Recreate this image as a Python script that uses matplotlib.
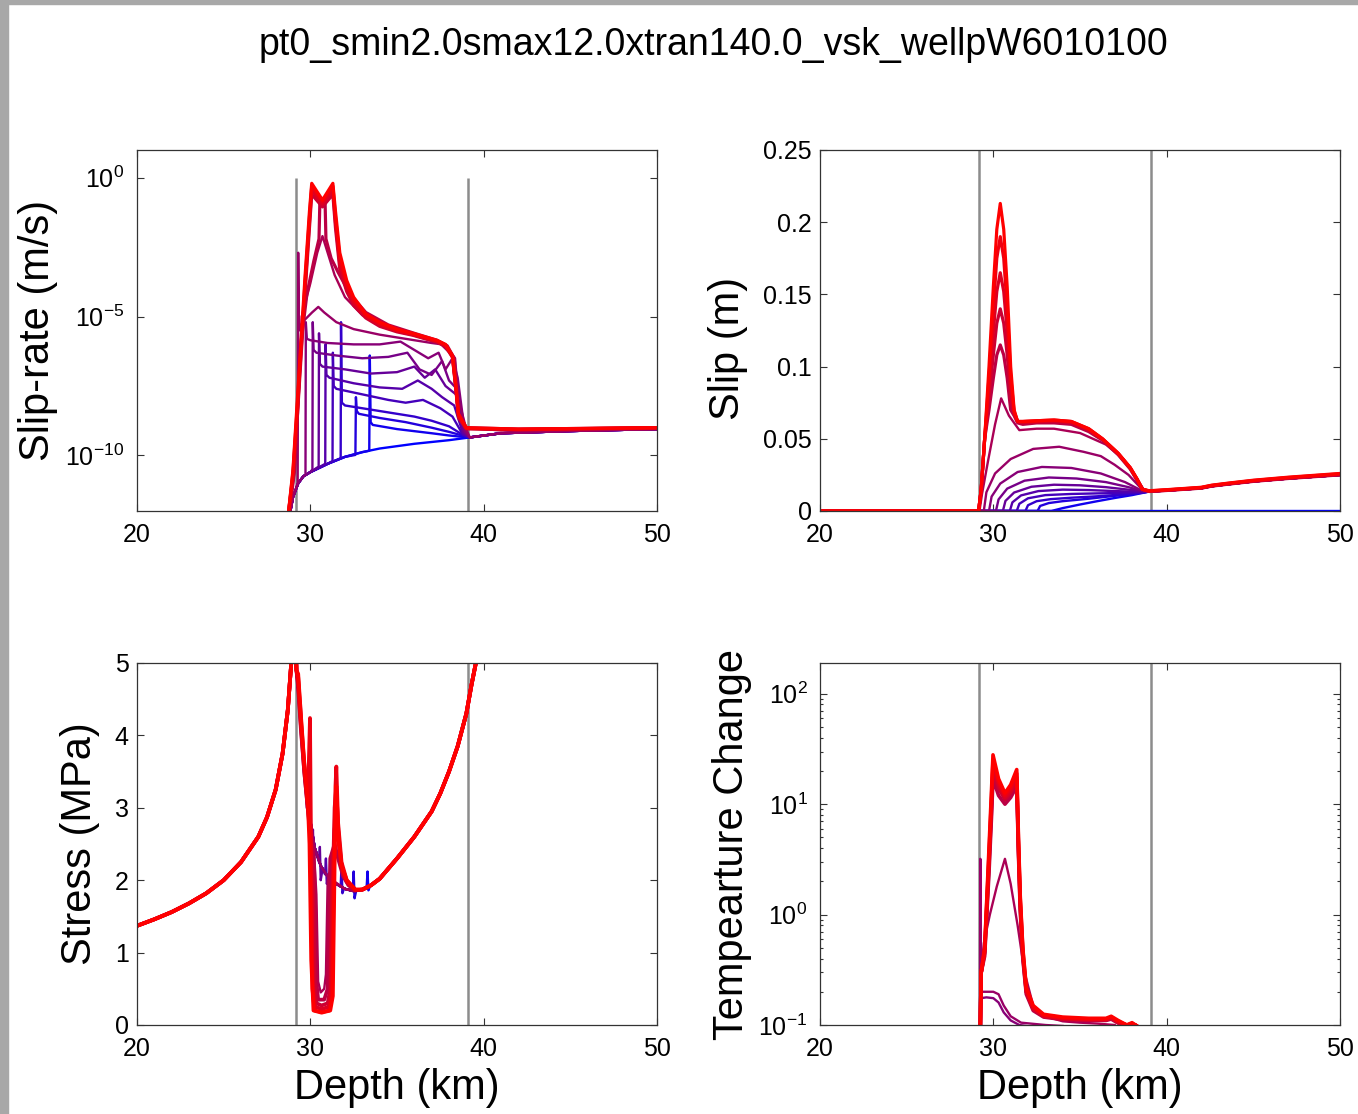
import numpy as np
import matplotlib
matplotlib.use("Agg")
import matplotlib.pyplot as plt
from matplotlib.patches import Rectangle
from matplotlib.ticker import FixedLocator, FixedFormatter, LogLocator, NullFormatter

plt.rcParams['font.family'] = ['Liberation Sans', 'DejaVu Sans']
plt.rcParams['mathtext.fontset'] = 'custom'
plt.rcParams['mathtext.rm'] = 'Liberation Sans'
plt.rcParams['mathtext.it'] = 'Liberation Sans:italic'
plt.rcParams['mathtext.bf'] = 'Liberation Sans:bold'

# ---------------- text / axes data ----------------
TITLE = "pt0_smin2.0smax12.0xtran140.0_vsk_wellpW6010100"
XLABEL = "Depth (km)"
YLABELS = ["Slip-rate (m/s)", "Slip (m)", "Stress (MPa)", "Tempearture Change"]
DEPTH_TICKS = [20, 30, 40, 50]
FAULT_EDGES = [29.15, 39.1]
N_SNAP = 16

# ---------------- slip rate (log10 m/s) ----------------
SR_BG_D = [28.85, 29.0, 29.3, 29.6, 30.0, 31.0, 32.0, 33.0, 34.0, 36.0, 38.0, 39.2, 41.0, 45.0, 50.0]
SR_BG = [-12.0, -11.5, -11.0, -10.75, -10.6, -10.3, -10.05, -9.88, -9.75, -9.58, -9.45, -9.35, -9.2, -9.12, -9.05]
SR_MID_D = [
    [33.4, 33.43, 33.48, 33.6, 35.0, 37.0, 38.0, 38.6],
    [32.6, 32.63, 32.68, 32.8, 34.0, 35.5, 37.0, 38.0, 38.7],
    [31.75, 31.77, 31.82, 32.0, 33.0, 34.5, 36.0, 37.0, 38.0, 38.7],
    [31.28, 31.3, 31.35, 31.5, 33.0, 34.5, 35.5, 36.5, 37.5, 38.2, 38.8],
    [30.86, 30.88, 30.93, 31.1, 32.5, 34.0, 35.3, 36.2, 37.0, 37.6, 38.3, 38.8],
    [30.48, 30.5, 30.55, 30.7, 32.0, 33.5, 35.0, 36.0, 36.6, 37.2, 37.8, 38.4, 38.8],
    [30.12, 30.14, 30.19, 30.35, 31.5, 33.0, 34.5, 35.6, 36.3, 37.0, 37.6, 38.0, 38.45, 38.85],
    [29.72, 29.74, 29.8, 30.0, 31.0, 32.5, 34.0, 35.2, 36.0, 36.8, 37.4, 37.8, 38.2, 38.5, 38.9],
    [29.27, 29.3, 29.34, 29.45, 29.7, 30.1, 30.46, 30.8, 31.5, 32.5, 34.0, 35.0, 36.0, 37.0, 37.6, 38.0, 38.35, 38.55, 39.0],
]
SR_MID = [
    [-9.83, -6.4, -8.8, -8.9, -9.05, -9.2, -9.28, -9.32],
    [-9.98, -7.9, -8.4, -8.5, -8.65, -8.8, -9.0, -9.15, -9.27],
    [-10.1, -5.2, -8.1, -8.2, -8.3, -8.45, -8.6, -8.75, -8.95, -9.22],
    [-10.2, -6.3, -7.5, -7.6, -7.8, -8.0, -8.1, -8.0, -8.3, -8.6, -9.25],
    [-10.3, -6.0, -7.1, -7.2, -7.4, -7.55, -7.6, -7.3, -7.6, -7.9, -8.2, -9.2],
    [-10.4, -5.6, -6.7, -6.8, -6.9, -7.05, -7.0, -6.8, -7.2, -6.9, -7.5, -7.8, -9.15],
    [-10.5, -5.2, -6.2, -6.3, -6.4, -6.5, -6.45, -6.3, -6.9, -7.1, -6.6, -7.3, -7.6, -9.1],
    [-10.7, -5.2, -5.8, -5.85, -5.95, -6.0, -6.0, -5.9, -6.2, -6.5, -6.3, -6.9, -6.5, -7.2, -9.1],
    [-11.0, -2.7, -5.5, -5.3, -5.1, -4.85, -4.65, -4.85, -5.2, -5.45, -5.65, -5.75, -5.85, -5.95, -6.0, -6.2, -6.5, -8.0, -9.05],
]
SR10_D = [28.8, 29.1, 29.35, 29.5, 30.0, 30.4, 30.7, 31.0, 31.4, 32.0, 33.0, 34.5, 36.0, 37.3, 38.2, 38.5, 38.9, 41.0, 45.0, 50.0]
SR10 = [-12, -10.5, -7.5, -5.0, -3.8, -2.7, -2.1, -2.7, -3.5, -4.3, -4.95, -5.4, -5.65, -5.85, -6.4, -8.4, -9.0, -9.1, -9.1, -9.05]
SR11_D = [28.8, 29.1, 29.3, 29.45, 29.8, 30.2, 30.5, 30.55, 30.7, 30.85, 30.9, 31.2, 31.6, 32.3, 33.2, 34.5, 36.0, 37.3, 37.9, 38.3, 38.55, 39.0, 42.0, 50.0]
SR11 = [-12, -10.5, -8.0, -6.0, -4.2, -3.0, -2.2, -0.85, -0.8, -0.85, -2.2, -2.9, -3.4, -4.2, -4.85, -5.3, -5.6, -5.85, -6.05, -6.5, -8.5, -9.0, -9.05, -9.0]
SR_RED_D = [28.75, 29.0, 29.25, 29.45, 29.7, 29.95, 30.08, 30.7, 31.3, 31.45, 31.7, 32.1, 32.5, 33.2, 34.0, 35.0, 35.9, 37.3, 37.8, 38.2, 38.4, 38.55, 39.0, 42.0, 50.0]
SR_RED = [
    [-12, -10.8, -8.6, -6.6, -4.1, -1.8, -0.6, -1.05, -0.6, -1.8, -3.3, -4.1, -4.6, -5.05, -5.35, -5.55, -5.67, -5.92, -6.07, -6.47, -7.65, -8.65, -9.04, -9.08, -9.01],
    [-12, -10.7, -8.4, -6.4, -3.9, -1.6, -0.45, -0.95, -0.45, -1.6, -3.1, -4.0, -4.5, -5.0, -5.3, -5.52, -5.65, -5.9, -6.05, -6.45, -7.6, -8.6, -9.03, -9.07, -9.0],
    [-12, -10.6, -8.2, -6.2, -3.7, -1.4, -0.3, -0.85, -0.3, -1.4, -2.9, -3.85, -4.4, -4.95, -5.25, -5.5, -5.62, -5.87, -6.02, -6.42, -7.55, -8.55, -9.02, -9.06, -9.0],
    [-12, -10.5, -8.0, -6.0, -3.5, -1.2, -0.2, -0.8, -0.2, -1.2, -2.7, -3.7, -4.3, -4.9, -5.2, -5.45, -5.6, -5.85, -6.0, -6.4, -7.5, -8.5, -9.0, -9.05, -9.0],
]

# ---------------- slip (m) ----------------
SLIP_TAIL_D = [39.0, 40.0, 41.0, 42.0, 42.6, 43.5, 45.0, 47.0, 50.0]
SLIP_TAIL = [0.0135, 0.0142, 0.015, 0.0158, 0.0172, 0.0185, 0.0205, 0.0225, 0.025]
SLIP_MID_D = [
    [33.35, 34.0, 35.0, 36.0, 37.0, 38.0, 38.6],
    [32.55, 32.7, 33.2, 34.0, 35.5, 37.0, 38.5],
    [31.85, 32.0, 32.5, 33.3, 34.5, 36.0, 37.5, 38.6],
    [31.35, 31.5, 32.0, 33.0, 34.5, 36.0, 37.5, 38.6],
    [30.95, 31.1, 31.6, 32.6, 34.0, 35.5, 37.0, 38.4],
    [30.55, 30.7, 31.2, 32.2, 33.5, 35.0, 36.5, 38.0, 38.8],
    [30.15, 30.3, 30.8, 31.8, 33.2, 34.8, 36.5, 37.8, 38.6],
    [29.75, 29.9, 30.4, 31.4, 32.8, 34.5, 36.2, 37.6, 38.5],
    [29.45, 29.6, 30.1, 31.0, 32.3, 33.8, 35.2, 36.2, 37.0, 37.8, 38.5],
    [29.2, 29.35, 29.7, 30.1, 30.45, 30.9, 31.5, 32.5, 33.5, 35.0, 36.5, 37.5, 38.3, 38.7],
]
SLIP_MID = [
    [0, 0.002, 0.0045, 0.0068, 0.009, 0.011, 0.0125],
    [0, 0.0035, 0.0055, 0.0068, 0.0085, 0.0105, 0.0125],
    [0, 0.004, 0.0068, 0.0082, 0.0092, 0.0102, 0.0115, 0.0128],
    [0, 0.005, 0.0088, 0.011, 0.0118, 0.0122, 0.0125, 0.013],
    [0, 0.006, 0.0108, 0.0138, 0.0148, 0.0145, 0.0138, 0.0133],
    [0, 0.007, 0.0128, 0.0168, 0.0182, 0.0178, 0.0165, 0.0145, 0.0134],
    [0, 0.008, 0.0155, 0.021, 0.0232, 0.0225, 0.02, 0.0165, 0.0138],
    [0, 0.01, 0.019, 0.027, 0.0305, 0.0298, 0.026, 0.02, 0.0145],
    [0, 0.013, 0.026, 0.036, 0.043, 0.0445, 0.041, 0.038, 0.032, 0.025, 0.016],
    [0, 0.012, 0.035, 0.06, 0.078, 0.066, 0.056, 0.057, 0.057, 0.054, 0.046, 0.036, 0.022, 0.0145],
]
SLIP_RED_D = [29.15, 29.3, 29.5, 29.75, 30.0, 30.2, 30.4, 30.6, 30.8, 31.0, 31.2, 31.4, 31.7, 32.5, 33.5, 34.5,
              35.5, 36.3, 37.2, 37.9, 38.3, 38.6]
SLIP_RED = [
    [0, 0.015, 0.05, 0.07, 0.092, 0.108, 0.115, 0.108, 0.092, 0.07, 0.066, 0.061, 0.06, 0.061, 0.061, 0.06, 0.055, 0.049, 0.039, 0.029, 0.021, 0.015],
    [0, 0.015, 0.05, 0.078, 0.108, 0.13, 0.14, 0.13, 0.108, 0.078, 0.067, 0.062, 0.061, 0.0615, 0.062, 0.061, 0.056, 0.0495, 0.0395, 0.0295, 0.0215, 0.015],
    [0, 0.015, 0.05, 0.086, 0.124, 0.152, 0.165, 0.152, 0.124, 0.086, 0.068, 0.062, 0.0615, 0.062, 0.0625, 0.0615, 0.0565, 0.0497, 0.0398, 0.0298, 0.0218, 0.015],
    [0, 0.015, 0.05, 0.093, 0.14, 0.175, 0.19, 0.175, 0.14, 0.093, 0.069, 0.062, 0.062, 0.0625, 0.063, 0.062, 0.057, 0.05, 0.04, 0.03, 0.022, 0.015],
    [0, 0.015, 0.05, 0.1, 0.155, 0.195, 0.213, 0.195, 0.155, 0.1, 0.07, 0.062, 0.062, 0.0625, 0.063, 0.062, 0.057, 0.05, 0.04, 0.03, 0.022, 0.015],
]

# ---------------- stress (MPa) ----------------
ST_BG_D = [20, 21, 22, 23, 24, 25, 26, 27, 27.5, 28, 28.4, 28.7, 28.9, 29.0, 29.1, 29.2, 29.45, 29.65, 29.85, 30.25,
           30.6, 31.0, 31.5, 32.0, 32.5, 33.0, 33.5, 34.0, 35.0, 36.0, 37.0, 37.5, 38.0, 38.5, 39.0, 39.3, 39.55, 39.7, 40.0, 50.0]
ST_BG = [1.37, 1.46, 1.56, 1.68, 1.82, 2.0, 2.25, 2.6, 2.87, 3.25, 3.75, 4.35, 5.0, 5.8, 5.8, 4.9, 4.26, 3.57, 3.05, 2.45,
         2.2, 2.05, 1.95, 1.88, 1.85, 1.87, 1.93, 2.02, 2.3, 2.6, 2.95, 3.2, 3.5, 3.85, 4.3, 4.7, 5.0, 5.3, 5.8, 5.8]
ST_MID_D = [
    [33.25, 33.3, 33.35, 33.45],
    [32.45, 32.5, 32.55, 32.65],
    [31.75, 31.8, 31.85, 31.95],
    [31.25, 31.3, 31.35, 31.45],
    [30.85, 30.9, 30.95, 31.05],
    [30.5, 30.55, 30.6, 30.7],
    [30.1, 30.15, 30.2, 30.3],
    [29.7, 29.75, 29.8, 29.9],
    [29.4, 29.45, 29.5, 29.6],
]
ST_MID = [
    [1.91, 2.12, 1.86, 1.92],
    [1.85, 2.12, 1.75, 1.86],
    [1.91, 2.2, 1.82, 1.89],
    [1.99, 2.25, 1.88, 1.96],
    [2.08, 2.3, 1.95, 2.04],
    [2.25, 2.46, 2.0, 2.15],
    [2.5, 2.7, 2.3, 2.4],
    [3.35, 3.5, 3.0, 2.95],
    [4.3, 4.45, 4.0, 3.75],
]
ST10_D = [29.85, 30.2, 30.35, 30.45, 30.6, 30.8, 30.9, 31.0, 31.1, 31.4, 32.0]
ST10 = [3.05, 2.45, 1.8, 0.6, 0.45, 0.5, 0.7, 2.0, 2.1, 1.98, 1.88]
ST_RED_D = [
    [29.3, 29.45, 29.65, 29.85, 30.0, 30.2, 30.3, 30.35, 30.45, 30.8, 31.0, 31.08, 31.15, 31.4, 31.6, 31.9, 32.2, 32.6],
    [29.3, 29.45, 29.65, 29.85, 30.0, 30.15, 30.25, 30.35, 30.65, 31.0, 31.15, 31.22, 31.4, 31.5, 31.7, 31.9, 32.2, 32.6],
    [29.3, 29.45, 29.65, 29.85, 29.95, 30.05, 30.15, 30.3, 30.65, 31.05, 31.2, 31.28, 31.4, 31.5, 31.6, 31.8, 32.1, 32.6],
    [29.3, 29.45, 29.65, 29.85, 29.98, 30.05, 30.12, 30.25, 30.65, 31.1, 31.25, 31.35, 31.45, 31.5, 31.6, 31.8, 32.1, 32.6],
    [29.3, 29.45, 29.65, 29.85, 29.95, 30.05, 30.18, 30.65, 31.15, 31.3, 31.4, 31.48, 31.55, 31.65, 31.8, 32.1, 32.6],
]
ST_RED = [
    [4.65, 4.1, 3.5, 3.0, 2.6, 2.3, 1.5, 0.6, 0.35, 0.35, 0.5, 1.5, 2.3, 2.5, 2.3, 2.05, 1.93, 1.86],
    [4.7, 4.15, 3.5, 3.0, 2.7, 2.0, 0.6, 0.3, 0.27, 0.3, 0.5, 1.6, 2.7, 2.9, 2.35, 2.08, 1.94, 1.86],
    [4.75, 4.2, 3.55, 3.05, 3.4, 2.0, 0.55, 0.25, 0.22, 0.25, 0.45, 1.8, 3.0, 3.3, 2.7, 2.2, 1.98, 1.86],
    [4.8, 4.25, 3.6, 3.05, 4.24, 2.2, 0.5, 0.2, 0.18, 0.2, 0.4, 2.0, 3.3, 3.57, 2.8, 2.25, 2.0, 1.87],
    [4.85, 4.3, 3.62, 3.1, 2.5, 0.9, 0.2, 0.17, 0.2, 0.4, 2.2, 3.3, 3.0, 2.5, 2.2, 2.0, 1.87],
]

# ---------------- temperature change ----------------
T_IDX = [8, 9, 10]
T_D = [
    [29.28, 29.3, 29.6, 30.0, 30.3, 30.6, 31.0, 31.5, 32.5],
    [29.22, 29.25, 29.28, 29.6, 30.0, 30.3, 30.6, 31.0, 31.6, 33.0, 34.0],
    [29.25, 29.3, 29.45, 29.8, 30.2, 30.67, 31.0, 31.4, 31.8, 32.3, 33.0, 34.0, 35.0, 36.0, 37.0],
]
T_V = [
    [0.05, 0.175, 0.178, 0.175, 0.16, 0.13, 0.11, 0.1, 0.095],
    [0.05, 3.2, 0.2, 0.2, 0.2, 0.19, 0.15, 0.12, 0.105, 0.1, 0.098],
    [0.05, 0.3, 0.55, 1.0, 1.8, 3.2, 1.9, 0.8, 0.3, 0.15, 0.12, 0.108, 0.105, 0.103, 0.1],
]
T_RED_D = [29.22, 29.3, 29.5, 29.75, 29.9, 29.98, 30.3, 30.67, 31.0, 31.35, 31.45, 31.55, 31.7, 31.9, 32.3, 32.9, 34.0, 35.5, 36.5, 36.8, 37.2, 37.7, 38.0, 38.2, 38.4]
T_RED = [
    [0.05, 0.3, 0.42, 2.4, 8.0, 17, 12, 10, 11.5, 14.5, 3.5, 1.1, 0.4, 0.19, 0.135, 0.118, 0.112, 0.11, 0.11, 0.113, 0.104, 0.098, 0.1, 0.099, 0.095],
    [0.05, 0.3, 0.45, 2.8, 9.5, 20, 14, 11, 12.5, 16.5, 3.8, 1.2, 0.42, 0.2, 0.14, 0.12, 0.113, 0.111, 0.111, 0.115, 0.105, 0.099, 0.101, 0.1, 0.095],
    [0.05, 0.3, 0.46, 3.1, 10.5, 22, 15, 11.5, 13, 17.5, 4.0, 1.3, 0.45, 0.2, 0.14, 0.12, 0.114, 0.112, 0.112, 0.116, 0.106, 0.1, 0.102, 0.1, 0.095],
    [0.05, 0.3, 0.48, 3.5, 12, 25, 16, 12, 14, 19, 4.5, 1.4, 0.48, 0.21, 0.145, 0.123, 0.116, 0.113, 0.113, 0.118, 0.108, 0.1, 0.103, 0.1, 0.095],
    [0.05, 0.3, 0.5, 4.0, 14, 28, 17, 12.6, 15, 20.6, 5.0, 1.5, 0.5, 0.22, 0.15, 0.125, 0.118, 0.115, 0.115, 0.12, 0.11, 0.1, 0.105, 0.1, 0.095],
]


def snap_color(i):
    t = i / (N_SNAP - 1)
    return (t, 0.0, 1.0 - t)


def splice(bg_d, bg_v, mid_d, mid_v):
    d = [x for x in bg_d if x < mid_d[0]] + list(mid_d) + [x for x in bg_d if x > mid_d[-1]]
    v = [y for x, y in zip(bg_d, bg_v) if x < mid_d[0]] + list(mid_v) + \
        [y for x, y in zip(bg_d, bg_v) if x > mid_d[-1]]
    return d, v


W, H = 1358, 1114
fig = plt.figure(figsize=(W / 100, H / 100), dpi=100)
fig.patch.set_facecolor('white')
fig.patches.append(Rectangle((0, 0), 8 / W, 1, transform=fig.transFigure, color='#a8a8a8', zorder=0))
fig.patches.append(Rectangle((0, 1 - 4 / H), 1, 4 / H, transform=fig.transFigure, color='#a8a8a8', zorder=0))


def make_ax(px_left, px_top, px_w=520, px_h=361):
    return fig.add_axes([px_left / W, 1 - (px_top + px_h) / H, px_w / W, px_h / H])


ax1 = make_ax(137, 150)
ax2 = make_ax(820, 150)
ax3 = make_ax(137, 663, px_h=362)
ax4 = make_ax(820, 663, px_h=362)

LW = 1.7
LW_RED = 2.3
GRAY = '#8c8c8c'
TICK_FS = 18
LABEL_FS = 30

# ---- panel 1: slip-rate ----
for x in FAULT_EDGES:
    ax1.vlines(x, 1e-12, 1.0, color=GRAY, lw=1.8, zorder=1)
ax1.plot(SR_BG_D, 10.0 ** np.array(SR_BG), color=snap_color(0), lw=LW)
for k in range(9):
    d, v = splice(SR_BG_D, SR_BG, SR_MID_D[k], SR_MID[k])
    ax1.plot(d, 10.0 ** np.array(v), color=snap_color(k + 1), lw=LW)
ax1.plot(SR10_D, 10.0 ** np.array(SR10), color=snap_color(10), lw=LW)
ax1.plot(SR11_D, 10.0 ** np.array(SR11), color=snap_color(11), lw=LW_RED)
for k, v in enumerate(SR_RED):
    ax1.plot(SR_RED_D, 10.0 ** np.array(v), color=snap_color(12 + k), lw=LW_RED)
ax1.set_yscale('log')
ax1.set_ylim(1e-12, 1e1)
ax1.yaxis.set_major_locator(FixedLocator([1e-10, 1e-5, 1e0]))
ax1.yaxis.set_major_formatter(FixedFormatter([r'$10^{-10}$', r'$10^{-5}$', r'$10^{0}$']))
ax1.yaxis.set_minor_locator(FixedLocator([]))

# ---- panel 2: slip ----
for x in FAULT_EDGES:
    ax2.axvline(x, color=GRAY, lw=1.8, zorder=1)
ax2.plot([20, 50], [0, 0], color=snap_color(0), lw=LW)
for k in range(10):
    d = [20.0] + SLIP_MID_D[k] + SLIP_TAIL_D
    v = [0.0] + SLIP_MID[k] + SLIP_TAIL
    ax2.plot(d, v, color=snap_color(k + 1), lw=LW)
for k, vals in enumerate(SLIP_RED):
    d = [20.0] + SLIP_RED_D + SLIP_TAIL_D
    v = [0.0] + vals + [s * (1.0 + 0.01 * k) for s in SLIP_TAIL]
    ax2.plot(d, v, color=snap_color(11 + k), lw=LW_RED)
ax2.set_ylim(0, 0.25)
ax2.yaxis.set_major_locator(FixedLocator([0, 0.05, 0.1, 0.15, 0.2, 0.25]))
ax2.yaxis.set_major_formatter(FixedFormatter(['0', '0.05', '0.1', '0.15', '0.2', '0.25']))

# ---- panel 3: stress ----
for x in FAULT_EDGES:
    ax3.axvline(x, color=GRAY, lw=1.8, zorder=1)
ax3.plot(ST_BG_D, ST_BG, color=snap_color(0), lw=LW)
for k in range(9):
    d, v = splice(ST_BG_D, ST_BG, ST_MID_D[k], ST_MID[k])
    ax3.plot(d, v, color=snap_color(k + 1), lw=LW)
d, v = splice(ST_BG_D, ST_BG, ST10_D, ST10)
ax3.plot(d, v, color=snap_color(10), lw=LW)
for k, vals in enumerate(ST_RED):
    d, v = splice(ST_BG_D, ST_BG, ST_RED_D[k], vals)
    ax3.plot(d, v, color=snap_color(11 + k), lw=LW_RED + 0.4)
ax3.set_ylim(0, 5)
ax3.yaxis.set_major_locator(FixedLocator([0, 1, 2, 3, 4, 5]))

# ---- panel 4: temperature ----
for x in FAULT_EDGES:
    ax4.axvline(x, color=GRAY, lw=1.8, zorder=1)
for k, idx in enumerate(T_IDX):
    ax4.plot(T_D[k], T_V[k], color=snap_color(idx), lw=LW)
for k, vals in enumerate(T_RED):
    ax4.plot(T_RED_D, vals, color=snap_color(11 + k), lw=LW_RED + 0.3)
ax4.set_yscale('log')
ax4.set_ylim(0.1, 190)
ax4.yaxis.set_major_locator(FixedLocator([0.1, 1, 10, 100]))
ax4.yaxis.set_major_formatter(FixedFormatter([r'$10^{-1}$', r'$10^{0}$', r'$10^{1}$', r'$10^{2}$']))
ax4.yaxis.set_minor_locator(LogLocator(base=10, subs=np.arange(2, 10)))
ax4.yaxis.set_minor_formatter(NullFormatter())

ylabel_x = [-0.152, -0.138, -0.071, -0.131]
ylabel_y = [0.5, 0.45, 0.5, 0.5]
for ax, lab, lx, ly in zip([ax1, ax2, ax3, ax4], YLABELS, ylabel_x, ylabel_y):
    ax.set_xlim(20, 50)
    ax.xaxis.set_major_locator(FixedLocator(DEPTH_TICKS))
    ax.xaxis.set_major_formatter(FixedFormatter([str(t) for t in DEPTH_TICKS]))
    ax.tick_params(which='both', direction='in', top=True, right=True, labelsize=TICK_FS,
                   color='#333333', width=0.8)
    ax.tick_params(which='major', length=5)
    ax.tick_params(axis='x', which='major', pad=9)
    ax.tick_params(axis='y', which='major', pad=6)
    ax.tick_params(which='minor', length=2.5)
    for sp in ax.spines.values():
        sp.set_color('#333333')
        sp.set_linewidth(0.9)
    ax.set_ylabel(lab, fontsize=LABEL_FS)
    ax.yaxis.set_label_coords(lx, ly)

for ax in (ax1, ax4):
    ax.tick_params(axis='y', which='major', pad=9)

for ax in (ax3, ax4):
    ax.set_xlabel(XLABEL, fontsize=LABEL_FS)
    ax.xaxis.set_label_coords(0.5, -0.119)

fig.text(713 / W, 1 - 45 / H, TITLE, ha='center', va='center', fontsize=27)

fig.savefig("out.png", dpi=100)
